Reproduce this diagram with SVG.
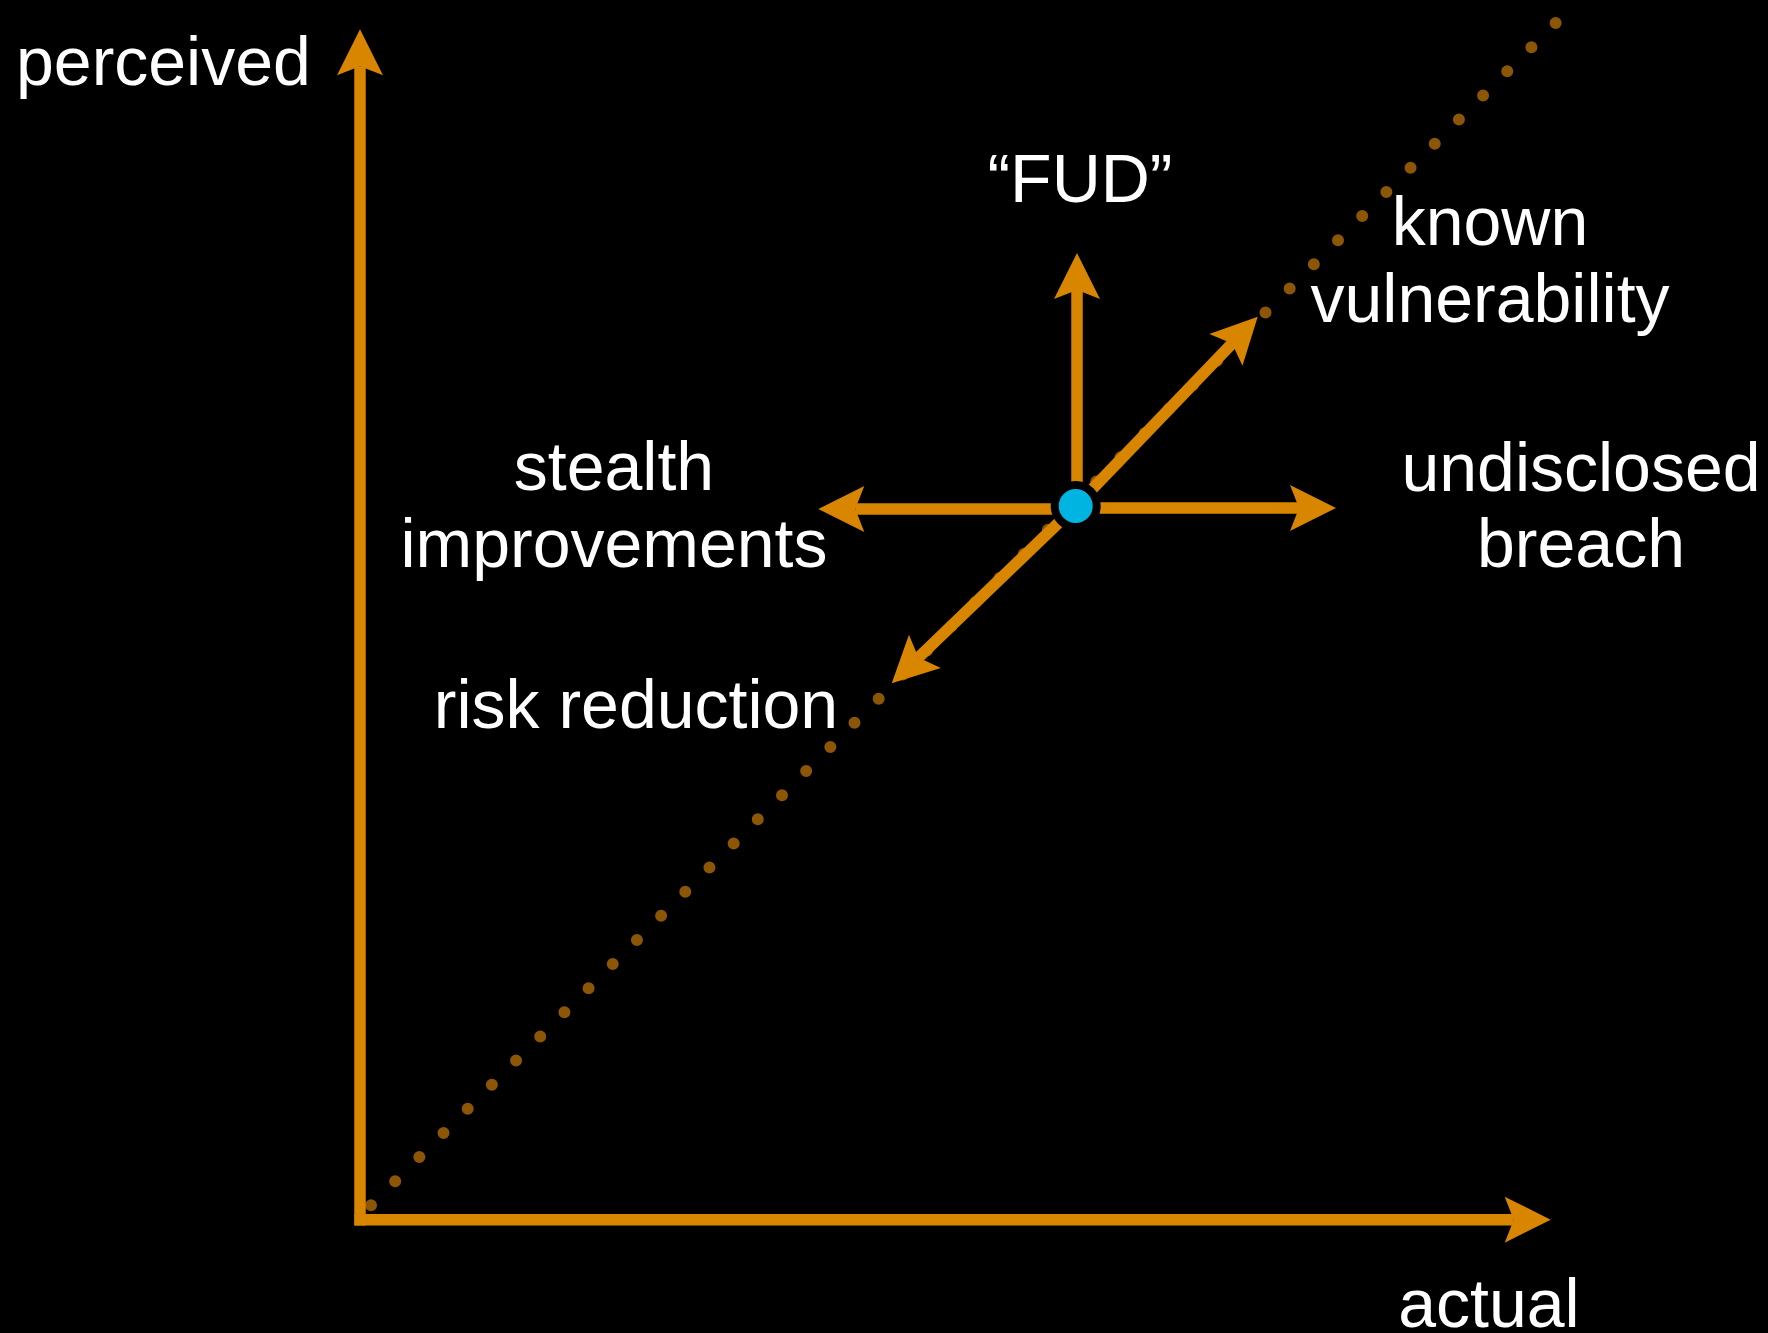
<svg xmlns="http://www.w3.org/2000/svg" width="1768" height="1333" viewBox="0 0 1768 1333">
  <style>
    .arrow { stroke: #D88500; stroke-width: 11.5; fill: none; stroke-linecap: butt; marker-end: url(#head); }
    .lbl { font-family: "Liberation Sans", Arial, sans-serif; font-size: 68px; fill: #FFFFFF; }
    .mid { text-anchor: middle; }
  </style>
  <defs>
    <marker id="head" markerUnits="userSpaceOnUse" orient="auto" refX="0" refY="0" markerWidth="100" markerHeight="100" overflow="visible">
      <path d="M37,0 L-9,-23 L0,0 L-9,23 Z" fill="#D88500"/>
    </marker>
  </defs>
  <rect x="0" y="0" width="1768" height="1333" fill="#000000"/>

  <g id="diagonal">
    <line x1="371" y1="1205.3" x2="1556.5" y2="22.2" stroke="#8C5605" stroke-width="12" stroke-linecap="round" stroke-dasharray="0 34.155"/>
  </g>

  <g id="connectors">
    <line class="arrow" x1="360" y1="1225.5" x2="360" y2="66.3"/>
    <line class="arrow" x1="354.5" y1="1219.7" x2="1513.7" y2="1219.7"/>
    <line class="arrow" x1="1077" y1="506" x2="1077" y2="290"/>
    <line class="arrow" x1="1076" y1="506" x2="1232.1" y2="343.4"/>
    <line class="arrow" x1="1076" y1="508" x2="1299" y2="508"/>
    <line class="arrow" x1="1076" y1="509" x2="855.3" y2="509"/>
    <line class="arrow" x1="1076" y1="506" x2="918.4" y2="657.6"/>
  </g>

  <g id="current-position">
    <circle cx="1075.7" cy="506" r="21" fill="#00B4E2" stroke="#000000" stroke-width="8"/>
  </g>

  <g id="label-perceived"><text class="lbl" x="16" y="85">perceived</text></g>
  <g id="label-actual"><text class="lbl mid" x="1489" y="1327">actual</text></g>
  <g id="label-fud"><text class="lbl mid" x="1080" y="202">“FUD”</text></g>
  <g id="label-known-vulnerability">
    <text class="lbl mid" x="1490" y="245">known</text>
    <text class="lbl mid" x="1490" y="322">vulnerability</text>
  </g>
  <g id="label-stealth-improvements">
    <text class="lbl mid" x="614" y="490">stealth</text>
    <text class="lbl mid" x="614" y="567">improvements</text>
  </g>
  <g id="label-undisclosed-breach">
    <text class="lbl mid" x="1581" y="491">undisclosed</text>
    <text class="lbl mid" x="1581" y="567">breach</text>
  </g>
  <g id="label-risk-reduction"><text class="lbl mid" x="636" y="728">risk reduction</text></g>
</svg>
